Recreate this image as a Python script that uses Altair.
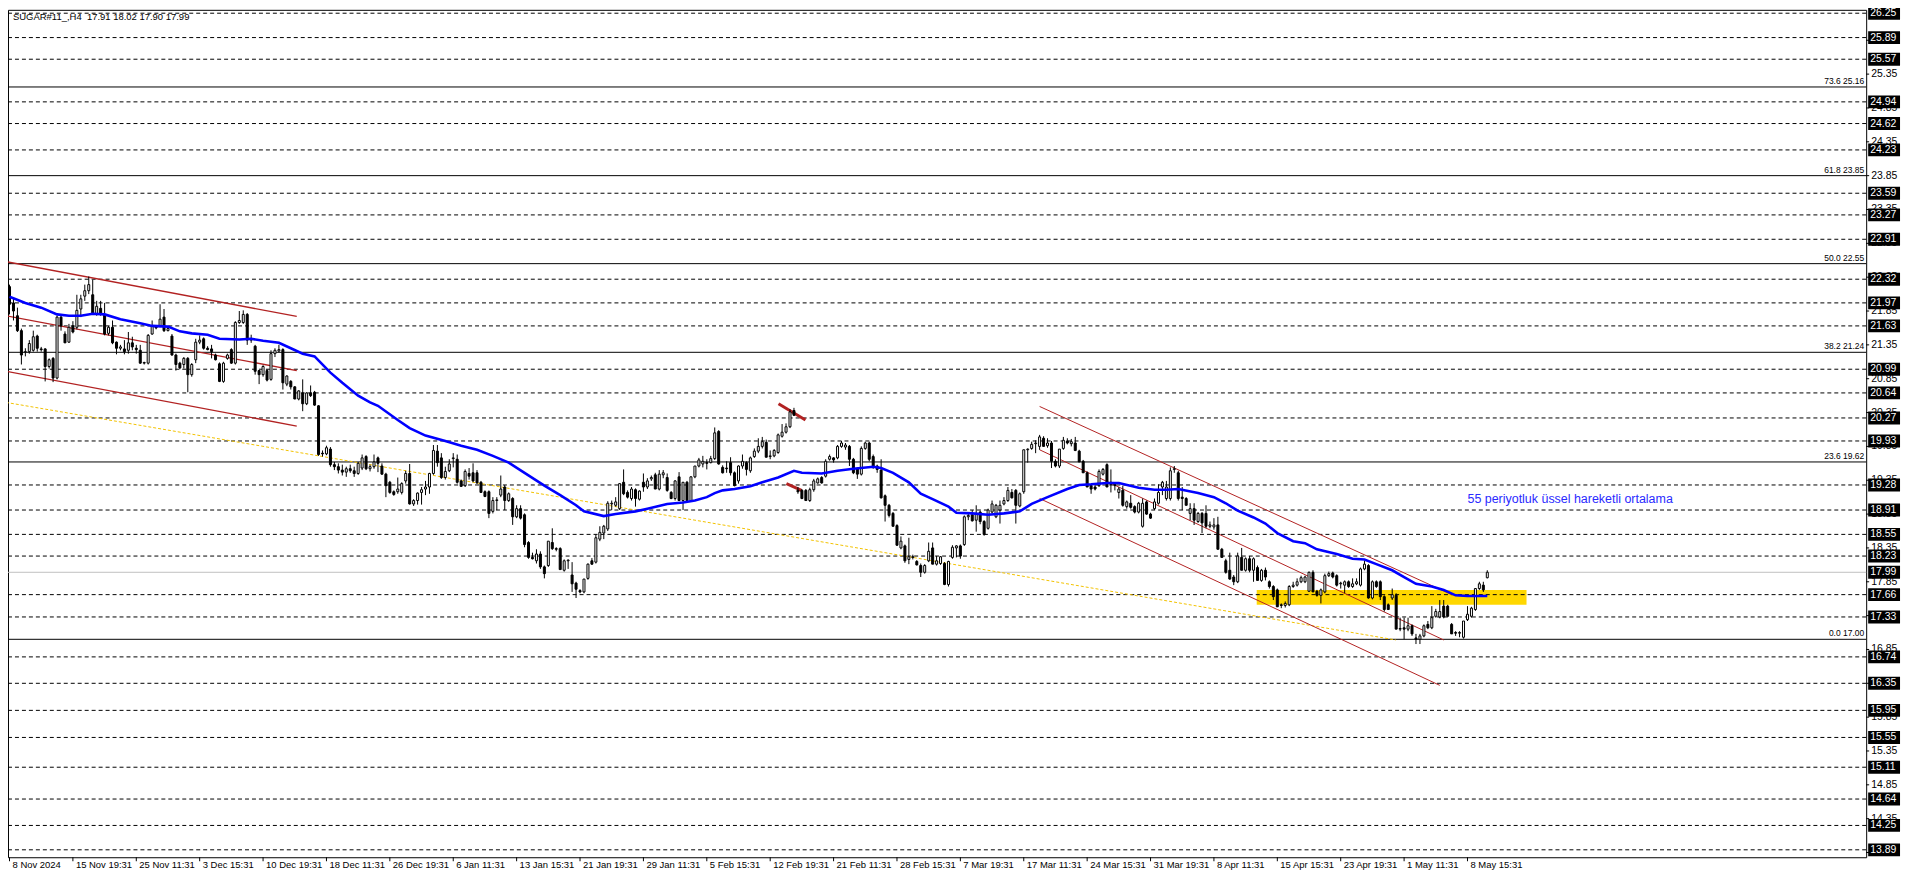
import altair as alt
import pandas as pd

W, H = 1866, 851
X_DOM = [0.875, 467.375]
Y_DOM = [13.78, 26.30]
FONT = "Liberation Sans"

title_text = "SUGAR#11_,H4\u00a0\u00a017.91 18.02 17.90 17.99"

opens = [
    22.21, 21.97, 21.78, 21.56, 21.24, 21.25, 21.27, 21.48, 21.29, 21.29,
    21.03, 21.15, 20.86, 21.76, 21.51, 21.39, 21.63, 21.61, 21.88, 22.07,
    22.15, 22.09, 21.80, 21.89, 21.80, 21.52, 21.61, 21.39, 21.30, 21.29,
    21.27, 21.38, 21.30, 21.27, 21.08, 21.08, 21.51, 21.62, 21.63, 21.76,
    21.56, 21.48, 21.20, 21.08, 21.06, 21.15, 20.91, 21.13, 21.39, 21.44,
    21.30, 21.29, 21.20, 21.07, 20.81, 21.15, 21.28, 21.08, 21.68, 21.68,
    21.80, 21.42, 21.33, 20.97, 20.91, 20.97, 20.84, 21.22, 21.26, 21.28,
    20.77, 20.81, 20.73, 20.55, 20.64, 20.48, 20.64, 20.65, 20.45, 19.75,
    19.74, 19.81, 19.58, 19.55, 19.50, 19.47, 19.52, 19.49, 19.45, 19.53,
    19.70, 19.52, 19.55, 19.68, 19.56, 19.44, 19.32, 19.18, 19.18, 19.17,
    19.34, 19.45, 19.00, 19.05, 19.17, 19.22, 19.25, 19.45, 19.78, 19.68,
    19.39, 19.49, 19.67, 19.66, 19.34, 19.27, 19.45, 19.46, 19.46, 19.32,
    19.18, 19.18, 18.89, 19.05, 19.13, 19.25, 19.05, 19.08, 18.81, 18.93,
    18.84, 18.43, 18.21, 18.16, 18.26, 18.07, 18.09, 18.43, 18.34, 18.34,
    18.02, 18.16, 17.95, 17.83, 17.72, 17.70, 17.90, 18.16, 18.14, 18.48,
    18.57, 18.63, 19.00, 18.98, 18.93, 19.32, 19.17, 19.08, 19.21, 19.07,
    19.32, 19.25, 19.37, 19.43, 19.22, 19.43, 19.39, 19.17, 19.08, 19.40,
    19.05, 19.32, 19.05, 19.40, 19.56, 19.59, 19.61, 19.61, 19.67, 20.07,
    19.54, 19.53, 19.61, 19.46, 19.34, 19.56, 19.61, 19.49, 19.70, 19.78,
    19.85, 19.91, 19.70, 19.71, 19.76, 20.00, 20.06, 20.14, 20.38, 19.20,
    19.20, 19.20, 19.05, 19.21, 19.31, 19.39, 19.41, 19.66, 19.68, 19.68,
    19.85, 19.84, 19.85, 19.66, 19.52, 19.44, 19.82, 19.90, 19.70, 19.56,
    19.50, 19.12, 18.98, 18.86, 18.68, 18.35, 18.38, 18.18, 18.22, 18.15,
    18.09, 17.99, 18.16, 18.35, 18.11, 18.12, 18.12, 17.81, 18.21, 18.35,
    18.38, 18.40, 18.81, 18.84, 18.76, 18.88, 18.74, 18.64, 18.88, 18.81,
    18.91, 19.00, 19.05, 19.17, 19.20, 18.97, 19.18, 19.80, 19.82, 19.89,
    19.85, 19.97, 19.86, 19.90, 19.63, 19.56, 19.82, 19.93, 19.89, 19.90,
    19.78, 19.63, 19.46, 19.27, 19.25, 19.27, 19.44, 19.58, 19.32, 19.29,
    19.17, 19.20, 18.96, 19.01, 18.96, 18.88, 18.67, 19.03, 18.85, 18.93,
    19.01, 19.25, 19.08, 19.08, 19.51, 19.46, 19.10, 19.08, 18.86, 18.93,
    18.74, 18.86, 18.86, 18.67, 18.66, 18.69, 18.33, 18.16, 18.02, 17.92,
    17.85, 18.21, 18.02, 18.19, 18.02, 18.06, 17.87, 18.02, 17.85, 17.78,
    17.73, 17.51, 17.50, 17.51, 17.78, 17.80, 17.85, 17.85, 17.71, 17.99,
    17.71, 17.65, 17.70, 17.94, 17.98, 17.94, 17.82, 17.80, 17.85, 17.78,
    17.82, 17.80, 18.04, 18.09, 17.61, 17.85, 17.85, 17.63, 17.51, 17.61,
    17.65, 17.15, 17.17, 17.15, 17.20, 17.02, 17.00, 17.05, 17.22, 17.17,
    17.34, 17.33, 17.49, 17.49, 17.22, 17.10, 17.09, 17.03, 17.29, 17.34,
    17.44, 17.75, 17.80, 17.91,
]
highs = [
    22.24, 22.04, 21.90, 21.59, 21.30, 21.42, 21.56, 21.50, 21.32, 21.30,
    21.15, 21.17, 21.78, 21.78, 21.55, 21.66, 21.70, 22.09, 22.09, 22.24,
    22.36, 22.31, 22.00, 22.00, 21.97, 21.63, 21.71, 21.40, 21.35, 21.42,
    21.54, 21.47, 21.35, 21.35, 21.10, 21.51, 21.71, 21.63, 21.95, 21.88,
    21.60, 21.51, 21.22, 21.10, 21.17, 21.17, 21.08, 21.44, 21.49, 21.46,
    21.33, 21.35, 21.22, 21.09, 21.10, 21.22, 21.30, 21.70, 21.85, 21.86,
    21.82, 21.50, 21.35, 20.98, 21.05, 20.99, 21.27, 21.30, 21.35, 21.30,
    20.90, 20.83, 20.74, 20.68, 20.84, 20.65, 20.75, 20.67, 20.46, 19.79,
    19.86, 19.84, 19.62, 19.60, 19.58, 19.55, 19.58, 19.55, 19.62, 19.73,
    19.72, 19.58, 19.73, 19.70, 19.60, 19.46, 19.34, 19.20, 19.39, 19.32,
    19.49, 19.59, 19.07, 19.17, 19.25, 19.34, 19.46, 19.87, 19.87, 19.75,
    19.55, 19.66, 19.75, 19.73, 19.36, 19.51, 19.53, 19.60, 19.50, 19.34,
    19.20, 19.20, 19.10, 19.10, 19.42, 19.28, 19.17, 19.10, 18.98, 18.98,
    18.86, 18.45, 18.28, 18.33, 18.30, 18.09, 18.45, 18.64, 18.36, 18.36,
    18.18, 18.18, 18.14, 17.85, 17.74, 17.89, 18.12, 18.20, 18.55, 18.67,
    18.69, 19.04, 19.05, 19.10, 19.30, 19.51, 19.20, 19.25, 19.23, 19.20,
    19.45, 19.38, 19.42, 19.46, 19.50, 19.50, 19.45, 19.19, 19.35, 19.47,
    19.32, 19.34, 19.41, 19.56, 19.68, 19.71, 19.66, 19.71, 20.13, 20.09,
    19.57, 19.63, 19.69, 19.48, 19.57, 19.73, 19.63, 19.70, 19.82, 19.97,
    19.99, 19.95, 19.79, 19.81, 20.04, 20.18, 20.19, 20.40, 20.42, 19.25,
    19.22, 19.22, 19.24, 19.37, 19.39, 19.41, 19.66, 19.73, 19.69, 19.87,
    19.93, 19.90, 19.87, 19.68, 19.54, 19.85, 19.92, 19.92, 19.73, 19.58,
    19.66, 19.14, 19.00, 18.88, 18.70, 18.52, 18.40, 18.50, 18.25, 18.17,
    18.12, 18.11, 18.43, 18.43, 18.23, 18.23, 18.14, 18.16, 18.39, 18.39,
    18.40, 18.83, 18.86, 18.91, 18.98, 18.90, 18.76, 18.93, 19.05, 19.00,
    19.05, 19.10, 19.25, 19.22, 19.22, 19.17, 19.80, 19.82, 19.92, 19.94,
    20.02, 20.00, 19.97, 19.93, 19.66, 19.81, 19.99, 19.97, 19.96, 19.99,
    19.80, 19.65, 19.48, 19.29, 19.30, 19.51, 19.53, 19.60, 19.51, 19.32,
    19.25, 19.27, 19.05, 19.13, 18.98, 19.03, 19.08, 19.05, 18.87, 19.08,
    19.29, 19.34, 19.34, 19.54, 19.56, 19.49, 19.25, 19.10, 19.01, 19.01,
    18.88, 18.88, 18.98, 18.74, 18.79, 18.81, 18.35, 18.19, 18.28, 17.95,
    18.28, 18.35, 18.21, 18.23, 18.21, 18.09, 18.04, 18.06, 17.87, 17.80,
    17.75, 17.53, 17.56, 17.80, 17.85, 17.90, 17.94, 17.94, 18.00, 18.02,
    17.73, 17.75, 17.97, 18.00, 18.00, 17.96, 17.85, 17.87, 17.87, 17.90,
    17.90, 18.06, 18.16, 18.11, 17.87, 17.87, 17.87, 17.65, 17.53, 17.75,
    17.68, 17.32, 17.32, 17.32, 17.22, 17.08, 17.08, 17.22, 17.27, 17.49,
    17.45, 17.58, 17.58, 17.51, 17.24, 17.12, 17.12, 17.27, 17.49, 17.48,
    17.75, 17.85, 17.85, 18.02,
]
lows = [
    21.80, 21.71, 21.54, 21.06, 21.18, 21.22, 21.25, 21.25, 21.25, 20.81,
    21.00, 20.80, 20.84, 21.56, 21.38, 21.38, 21.52, 21.58, 21.76, 22.00,
    22.10, 21.80, 21.78, 21.78, 21.49, 21.49, 21.36, 21.21, 21.27, 21.21,
    21.22, 21.27, 21.22, 21.07, 21.06, 21.06, 21.50, 21.58, 21.61, 21.54,
    21.55, 21.19, 20.97, 20.99, 21.00, 20.65, 20.88, 21.08, 21.36, 21.28,
    21.27, 21.15, 21.12, 20.80, 20.79, 21.13, 21.07, 21.06, 21.66, 21.66,
    21.35, 21.38, 20.91, 20.77, 20.88, 20.81, 20.82, 21.17, 21.24, 20.69,
    20.74, 20.69, 20.55, 20.53, 20.37, 20.46, 20.58, 20.45, 19.71, 19.70,
    19.72, 19.55, 19.50, 19.45, 19.42, 19.40, 19.46, 19.40, 19.43, 19.50,
    19.50, 19.48, 19.52, 19.47, 19.43, 19.10, 19.15, 19.12, 19.15, 19.14,
    19.30, 18.99, 18.97, 18.99, 18.99, 19.13, 19.15, 19.43, 19.55, 19.37,
    19.36, 19.47, 19.54, 19.30, 19.25, 19.25, 19.36, 19.32, 19.30, 19.17,
    19.10, 18.79, 18.86, 18.91, 19.10, 18.91, 19.03, 18.69, 18.79, 18.77,
    18.36, 18.19, 18.18, 18.12, 18.04, 17.90, 18.07, 18.32, 18.30, 18.03,
    18.00, 18.04, 17.70, 17.61, 17.68, 17.68, 17.88, 18.10, 18.12, 18.45,
    18.48, 18.60, 18.91, 18.96, 18.91, 19.13, 19.08, 19.05, 18.96, 19.05,
    19.18, 19.22, 19.34, 19.22, 19.20, 19.38, 19.18, 19.07, 19.05, 19.05,
    18.91, 19.05, 19.03, 19.38, 19.54, 19.54, 19.51, 19.60, 19.65, 19.58,
    19.45, 19.46, 19.42, 19.26, 19.30, 19.52, 19.42, 19.46, 19.68, 19.75,
    19.82, 19.69, 19.66, 19.69, 19.74, 19.98, 20.04, 20.12, 20.30, 19.15,
    19.07, 19.05, 19.03, 19.18, 19.30, 19.30, 19.39, 19.64, 19.61, 19.66,
    19.83, 19.80, 19.56, 19.44, 19.37, 19.42, 19.80, 19.63, 19.52, 19.46,
    19.08, 18.74, 18.80, 18.67, 18.38, 18.33, 18.13, 18.11, 18.18, 18.09,
    17.92, 17.97, 18.14, 18.11, 18.09, 18.10, 17.80, 17.78, 18.19, 18.21,
    18.19, 18.38, 18.76, 18.74, 18.59, 18.70, 18.53, 18.62, 18.86, 18.79,
    18.71, 18.98, 19.03, 19.08, 18.71, 18.95, 19.15, 19.61, 19.80, 19.75,
    19.80, 19.85, 19.83, 19.53, 19.54, 19.53, 19.80, 19.88, 19.85, 19.78,
    19.62, 19.46, 19.25, 19.15, 19.20, 19.25, 19.42, 19.25, 19.17, 19.20,
    19.08, 18.96, 18.93, 18.93, 18.86, 18.86, 18.65, 18.84, 18.78, 18.91,
    18.99, 19.13, 19.05, 19.05, 19.46, 19.05, 18.91, 18.98, 18.76, 18.69,
    18.72, 18.57, 18.64, 18.64, 18.62, 18.33, 18.21, 17.97, 17.88, 17.80,
    17.83, 18.02, 18.00, 17.99, 17.85, 17.87, 17.85, 17.87, 17.75, 17.58,
    17.48, 17.46, 17.47, 17.49, 17.76, 17.78, 17.83, 17.83, 17.70, 17.70,
    17.63, 17.53, 17.68, 17.92, 17.90, 17.78, 17.75, 17.68, 17.76, 17.76,
    17.80, 17.78, 18.02, 17.60, 17.59, 17.76, 17.58, 17.41, 17.44, 17.58,
    17.15, 17.12, 17.00, 17.12, 17.05, 16.93, 16.93, 17.03, 17.15, 17.15,
    17.32, 17.31, 17.31, 17.34, 17.08, 17.05, 17.03, 17.01, 17.27, 17.32,
    17.42, 17.73, 17.70, 17.90,
]
closes = [
    21.95, 21.85, 21.56, 21.20, 21.25, 21.37, 21.47, 21.30, 21.28, 21.03,
    21.13, 20.86, 21.76, 21.63, 21.38, 21.61, 21.54, 21.86, 22.03, 22.15,
    22.24, 21.80, 21.92, 21.80, 21.51, 21.61, 21.38, 21.30, 21.32, 21.25,
    21.38, 21.32, 21.28, 21.08, 21.09, 21.49, 21.63, 21.60, 21.73, 21.56,
    21.59, 21.20, 21.06, 21.01, 21.15, 20.91, 21.06, 21.39, 21.42, 21.30,
    21.28, 21.25, 21.13, 20.81, 21.08, 21.20, 21.08, 21.68, 21.71, 21.80,
    21.42, 21.44, 20.96, 20.91, 21.03, 20.83, 21.22, 21.27, 21.28, 20.79,
    20.89, 20.73, 20.55, 20.67, 20.48, 20.64, 20.60, 20.46, 19.73, 19.74,
    19.83, 19.58, 19.55, 19.50, 19.47, 19.52, 19.49, 19.45, 19.60, 19.68,
    19.52, 19.55, 19.62, 19.60, 19.44, 19.27, 19.17, 19.14, 19.22, 19.30,
    19.45, 19.00, 19.05, 19.16, 19.21, 19.25, 19.45, 19.79, 19.61, 19.39,
    19.48, 19.59, 19.68, 19.32, 19.26, 19.48, 19.41, 19.34, 19.31, 19.17,
    19.11, 18.86, 19.05, 19.06, 19.22, 19.05, 19.15, 18.81, 18.93, 18.79,
    18.40, 18.21, 18.19, 18.26, 18.07, 17.97, 18.45, 18.34, 18.33, 18.03,
    18.16, 18.17, 17.82, 17.74, 17.70, 17.89, 18.11, 18.11, 18.50, 18.58,
    18.67, 19.01, 19.01, 19.03, 19.30, 19.15, 19.10, 19.22, 19.08, 19.19,
    19.25, 19.34, 19.39, 19.22, 19.44, 19.46, 19.20, 19.08, 19.34, 19.05,
    19.32, 19.05, 19.40, 19.56, 19.65, 19.63, 19.60, 19.67, 20.05, 19.59,
    19.46, 19.52, 19.46, 19.27, 19.56, 19.63, 19.51, 19.68, 19.78, 19.85,
    19.92, 19.69, 19.71, 19.79, 20.02, 20.06, 20.14, 20.36, 20.31, 19.18,
    19.08, 19.05, 19.21, 19.34, 19.37, 19.31, 19.63, 19.70, 19.65, 19.85,
    19.90, 19.87, 19.66, 19.46, 19.44, 19.82, 19.90, 19.66, 19.56, 19.51,
    19.09, 18.98, 18.83, 18.67, 18.39, 18.45, 18.16, 18.22, 18.21, 18.10,
    17.99, 18.09, 18.30, 18.11, 18.16, 18.22, 17.81, 18.15, 18.36, 18.38,
    18.23, 18.81, 18.83, 18.75, 18.86, 18.74, 18.55, 18.91, 19.00, 18.98,
    18.98, 19.05, 19.20, 19.09, 18.98, 19.15, 19.80, 19.81, 19.88, 19.90,
    19.99, 19.85, 19.90, 19.63, 19.56, 19.81, 19.94, 19.90, 19.92, 19.79,
    19.62, 19.46, 19.25, 19.22, 19.22, 19.48, 19.51, 19.25, 19.29, 19.27,
    19.22, 18.98, 19.03, 18.95, 18.88, 19.01, 19.01, 18.85, 18.79, 19.03,
    19.17, 19.32, 19.25, 19.49, 19.52, 19.08, 19.08, 18.98, 18.93, 18.76,
    18.86, 18.72, 18.67, 18.69, 18.69, 18.33, 18.21, 17.99, 17.89, 17.85,
    18.23, 18.02, 18.19, 18.02, 18.19, 17.87, 18.02, 17.92, 17.78, 17.63,
    17.48, 17.50, 17.53, 17.78, 17.80, 17.85, 17.91, 17.92, 17.99, 17.70,
    17.65, 17.73, 17.94, 17.97, 17.92, 17.80, 17.83, 17.85, 17.78, 17.82,
    17.85, 18.04, 18.11, 17.61, 17.85, 17.78, 17.63, 17.44, 17.44, 17.66,
    17.15, 17.16, 17.15, 17.20, 17.08, 17.00, 17.05, 17.20, 17.17, 17.32,
    17.41, 17.41, 17.33, 17.34, 17.08, 17.09, 17.10, 17.27, 17.37, 17.46,
    17.75, 17.82, 17.73, 17.99,
]

# 55-period EMA (bar index, price)
ma_idx = [0, 4, 8, 12, 15, 18, 21, 24, 28, 33, 36, 40, 43, 46, 50, 53, 58, 61, 64, 68,
          71, 74, 77, 81, 84, 88, 91, 93, 98, 101, 105, 110, 114, 118, 122, 126, 130, 135,
          139, 143, 145, 150, 153, 158, 161, 166, 170, 173, 176, 178, 180, 183, 187, 190,
          194, 198, 200, 205, 209, 213, 218, 220, 223, 227, 230, 233, 237, 239, 243, 247,
          251, 255, 258, 262, 267, 270, 273, 277, 280, 285, 289, 292, 295, 300, 304, 307,
          310, 314, 317, 320, 324, 327, 330, 335, 339, 342, 345, 349, 352, 355, 359, 362,
          365, 368, 373]
ma_val = [22.06, 21.97, 21.90, 21.80, 21.78, 21.78, 21.81, 21.80, 21.73, 21.67, 21.63, 21.62,
          21.55, 21.52, 21.50, 21.44, 21.43, 21.44, 21.41, 21.38, 21.30, 21.22, 21.18, 20.94,
          20.79, 20.60, 20.50, 20.45, 20.24, 20.12, 20.01, 19.93, 19.86, 19.80, 19.71, 19.61,
          19.46, 19.27, 19.13, 18.98, 18.89, 18.82, 18.85, 18.89, 18.93, 19.00, 19.02, 19.05,
          19.10, 19.16, 19.20, 19.22, 19.26, 19.32, 19.39, 19.49, 19.46, 19.45, 19.49, 19.52,
          19.55, 19.53, 19.46, 19.32, 19.15, 19.07, 18.96, 18.87, 18.86, 18.84, 18.86, 18.89,
          19.00, 19.10, 19.22, 19.28, 19.29, 19.31, 19.31, 19.24, 19.21, 19.21, 19.22, 19.16,
          19.10, 19.01, 18.90, 18.80, 18.71, 18.57, 18.45, 18.42, 18.33, 18.26, 18.19, 18.18,
          18.11, 18.02, 17.92, 17.82, 17.78, 17.73, 17.65, 17.64, 17.64]

level_prices = [26.25, 25.89, 25.57, 24.94, 24.62, 24.23, 23.59, 23.27, 22.91, 22.32,
                21.97, 21.63, 20.99, 20.64, 20.27, 19.93, 19.28, 18.91, 18.55, 18.23,
                17.66, 17.33, 16.74, 16.35, 15.95, 15.55, 15.11, 14.64, 14.25, 13.89]
current_price = [17.99]
fib_pct = ["73.6", "61.8", "50.0", "38.2", "23.6", "0.0"]
fib_prices = [25.16, 23.85, 22.55, 21.24, 19.62, 17.00]
axis_ticks = [13.85, 14.35, 14.85, 15.35, 15.85, 16.35, 16.85, 17.35, 17.85, 18.35, 18.85,
              19.35, 19.85, 20.35, 20.85, 21.35, 21.85, 22.35, 22.85, 23.35, 23.85, 24.35,
              24.85, 25.35, 25.85]

date_idx = [0, 16, 32, 48, 64, 80, 96, 112, 128, 144, 160, 176, 192, 208, 224, 240,
            256, 272, 288, 304, 320, 336, 352, 368]
date_labels = ["8 Nov 2024", "15 Nov 19:31", "25 Nov 11:31", "3 Dec 15:31", "10 Dec 19:31",
               "18 Dec 11:31", "26 Dec 19:31", "6 Jan 11:31", "13 Jan 15:31", "21 Jan 19:31",
               "29 Jan 11:31", "5 Feb 15:31", "12 Feb 19:31", "21 Feb 11:31", "28 Feb 15:31",
               "7 Mar 19:31", "17 Mar 11:31", "24 Mar 15:31", "31 Mar 19:31", "8 Apr 11:31",
               "15 Apr 15:31", "23 Apr 19:31", "1 May 11:31", "8 May 15:31"]

# drawn objects (bar index, price)
chan1_group = ["u", "u", "m", "m", "l", "l"]
chan1_i = [-0.9, 72.5, -0.9, 72.5, -0.9, 72.5]
chan1_p = [22.58, 21.77, 21.78, 20.97, 20.96, 20.15]
chan2_group = ["u", "u", "m", "m", "l", "l"]
chan2_i = [260, 364, 260, 362, 260, 361]
chan2_p = [20.44, 17.66, 19.80, 16.99, 19.08, 16.32]
trend_i = [-0.9, 349.9]
trend_p = [20.50, 16.99]
arrow_group = ["a", "a", "b", "b"]
arrow_i = [194.1, 200.9, 196.1, 199.9]
arrow_p = [20.48, 20.24, 19.30, 19.20]
zone_i = [314.8, 382.9]
zone_p = [17.51, 17.73]
note_i = [368]
note_p = [19.07]
note_text = ["55 periyotluk üssel hareketli ortalama"]

# ---------------------------------------------------------------
n = min(len(opens), len(highs), len(lows), len(closes))
candles = pd.DataFrame({
    "i": list(range(n)),
    "o": opens[:n],
    "h": [max(a, b, c) for a, b, c in zip(highs[:n], opens[:n], closes[:n])],
    "l": [min(a, b, c) for a, b, c in zip(lows[:n], opens[:n], closes[:n])],
    "c": closes[:n],
})
candles["dir"] = ["up" if c >= o else "down" for o, c in zip(candles["o"], candles["c"])]

xs = alt.Scale(domain=X_DOM, nice=False, zero=False)
ys = alt.Scale(domain=Y_DOM, nice=False, zero=False)


def X(f):
    return alt.X(f + ":Q", scale=xs, axis=None)


def Y(f):
    return alt.Y(f + ":Q", scale=ys, axis=None)


zone_df = pd.DataFrame({"i0": [zone_i[0]], "i1": [zone_i[1]], "p0": [zone_p[0]], "p1": [zone_p[1]]})
zone = alt.Chart(zone_df).mark_rect(color="#FFD700", clip=True).encode(
    x=X("i0"), x2="i1", y=Y("p0"), y2="p1")

lev_df = pd.DataFrame({"v": level_prices})
levels = alt.Chart(lev_df).mark_rule(color="black", strokeWidth=1, strokeDash=[4, 3]).encode(y=Y("v"))

cur_df = pd.DataFrame({"v": current_price})
cur_line = alt.Chart(cur_df).mark_rule(color="#c0c0c0", strokeWidth=1).encode(y=Y("v"))

fib_df = pd.DataFrame({"v": fib_prices,
                       "t": [f"{a} {b:.2f}" for a, b in zip(fib_pct, fib_prices)]})
fib_lines = alt.Chart(fib_df).mark_rule(color="black", strokeWidth=1).encode(y=Y("v"))
fib_text = alt.Chart(fib_df).mark_text(align="right", baseline="bottom", dy=-1, font=FONT,
                                       fontSize=8.5, color="black").encode(
    x=alt.value(W - 2), y=Y("v"), text="t:N")

trend_df = pd.DataFrame({"i": trend_i, "v": trend_p})
trend = alt.Chart(trend_df).mark_line(color="#f2c200", strokeWidth=1, strokeDash=[3, 2],
                                      clip=True).encode(x=X("i"), y=Y("v"))

c1_df = pd.DataFrame({"g": chan1_group, "i": chan1_i, "v": chan1_p})
chan1 = alt.Chart(c1_df).mark_line(color="#b22222", strokeWidth=1.4, clip=True).encode(
    x=X("i"), y=Y("v"), detail="g:N")
c2_df = pd.DataFrame({"g": chan2_group, "i": chan2_i, "v": chan2_p})
chan2 = alt.Chart(c2_df).mark_line(color="#b22222", strokeWidth=1, clip=True).encode(
    x=X("i"), y=Y("v"), detail="g:N")
ar_df = pd.DataFrame({"g": arrow_group, "i": arrow_i, "v": arrow_p})
arrows = alt.Chart(ar_df).mark_line(color="#b22222", strokeWidth=3, clip=True).encode(
    x=X("i"), y=Y("v"), detail="g:N")

ma_df = pd.DataFrame({"i": ma_idx, "v": ma_val})
ma = alt.Chart(ma_df).mark_line(color="#0000ff", strokeWidth=2.6, clip=True).encode(
    x=X("i"), y=Y("v"))

wicks = alt.Chart(candles).mark_rule(color="black", strokeWidth=1, clip=True).encode(
    x=X("i"), y=Y("l"), y2="h")
bodies = alt.Chart(candles).mark_bar(width=2, stroke="black", strokeWidth=1, clip=True).encode(
    x=X("i"), y=Y("o"), y2="c",
    fill=alt.Fill("dir:N", scale=alt.Scale(domain=["up", "down"], range=["white", "black"]),
                  legend=None))

note_df = pd.DataFrame({"i": note_i, "v": note_p, "t": note_text})
note = alt.Chart(note_df).mark_text(align="left", baseline="middle", font=FONT, fontSize=12.5,
                                    color="#2a2aff").encode(x=X("i"), y=Y("v"), text="t:N")

title_df = pd.DataFrame({"t": [title_text]})
title = alt.Chart(title_df).mark_text(align="left", baseline="top", font=FONT, fontSize=9.5,
                                      color="black").encode(
    x=alt.value(5), y=alt.value(2), text="t:N")

# right price scale: plain ticks and labels
tick_df = pd.DataFrame({"v": axis_ticks})
ax_ticks = alt.Chart(tick_df).mark_rule(color="black", strokeWidth=1).encode(
    x=alt.value(W), x2=alt.value(W + 3), y=Y("v"))
ax_text = alt.Chart(tick_df).mark_text(align="left", baseline="middle", font=FONT,
                                       fontSize=10.5, color="black").encode(
    x=alt.value(W + 5), y=Y("v"), text=alt.Text("v:Q", format=".2f"))

box_df = pd.DataFrame({"v": level_prices + current_price})
boxes = alt.Chart(box_df).transform_calculate(
    lo="datum.v - 0.095", hi="datum.v + 0.095"
).mark_rect(color="black").encode(
    x=alt.value(W + 2), x2=alt.value(W + 34), y=Y("lo"), y2="hi")
box_text = alt.Chart(box_df).mark_text(align="left", baseline="middle", font=FONT,
                                       fontSize=10.5, color="white").encode(
    x=alt.value(W + 4), y=Y("v"), text=alt.Text("v:Q", format=".2f"))

date_df = pd.DataFrame({"i": date_idx, "t": date_labels})
date_ticks = alt.Chart(date_df).mark_rule(color="black", strokeWidth=1).encode(
    x=X("i"), y=alt.value(H), y2=alt.value(H + 4))
date_text = alt.Chart(date_df).mark_text(align="left", baseline="top", dx=3, font=FONT,
                                         fontSize=9.5, color="black").encode(
    x=X("i"), y=alt.value(H + 3), text="t:N")

chart = alt.layer(
    zone, levels, cur_line, fib_lines, fib_text, trend, chan1, chan2, arrows,
    wicks, bodies, ma, note, title, ax_ticks, ax_text, boxes, box_text, date_ticks, date_text,
).properties(
    width=W, height=H,
    autosize=alt.AutoSizeParams(type="none"),
    padding={"left": 0, "top": 0, "right": 42, "bottom": 17},
    background="white",
).configure_view(stroke="black", strokeWidth=1)

chart.save("out.html", embed_options={"renderer": "svg", "actions": False})
